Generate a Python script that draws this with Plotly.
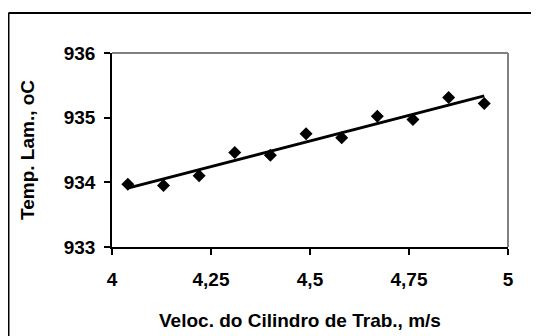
import numpy as np
import plotly.graph_objects as go

# Data
veloc = [4.04, 4.13, 4.22, 4.31, 4.40, 4.49, 4.58, 4.67, 4.76, 4.85, 4.94]
temp = [933.97, 933.95, 934.10, 934.46, 934.42, 934.75, 934.69, 935.02, 934.97, 935.31, 935.22]

x_tickvals = [4, 4.25, 4.5, 4.75, 5]
x_ticktext = ["4", "4,25", "4,5", "4,75", "5"]
y_tickvals = [933, 934, 935, 936]
y_ticktext = ["933", "934", "935", "936"]

x_title = "Veloc. do Cilindro de Trab., m/s"
y_title = "Temp. Lam., oC"

# Linear trend line
slope, intercept = np.polyfit(veloc, temp, 1)
trend_x = [min(veloc), max(veloc)]
trend_y = [slope * v + intercept for v in trend_x]

FONT = "Liberation Sans, Arial, sans-serif"
FS = 19

fig = go.Figure()
fig.add_trace(go.Scatter(x=veloc, y=temp, mode="markers",
                         marker=dict(symbol="diamond", size=10, color="black"),
                         showlegend=False, cliponaxis=False))
fig.add_trace(go.Scatter(x=trend_x, y=trend_y, mode="lines",
                         line=dict(color="black", width=3),
                         showlegend=False, cliponaxis=False))

# page offset (body margin) of 8px is compensated in these figure coords
W, H = 531, 328
L, T = 104, 45
pw, ph = 396, 194
R = W - L - pw
B = H - T - ph

def px_x(p):
    return (p - L) / pw

def px_y(p):
    return (T + ph - p) / ph

fig.update_layout(
    width=W, height=H,
    margin=dict(l=L, r=R, t=T, b=B),
    paper_bgcolor="white", plot_bgcolor="white",
    font=dict(family=FONT, size=FS, color="black", weight="bold"),
    xaxis=dict(range=[4, 5], tickvals=x_tickvals, ticktext=x_ticktext,
               ticks="outside", ticklen=6, tickwidth=1.5, tickcolor="black",
               showline=True, linecolor="black", linewidth=1.5,
               showgrid=False, zeroline=False, ticklabelstandoff=8,
               tickfont=dict(family=FONT, size=FS, color="black", weight="bold")),
    yaxis=dict(range=[933, 936], tickvals=y_tickvals, ticktext=y_ticktext,
               ticks="outside", ticklen=6, tickwidth=1.5, tickcolor="black",
               showline=True, linecolor="black", linewidth=1.5,
               showgrid=False, zeroline=False, ticklabelstandoff=5,
               tickfont=dict(family=FONT, size=FS, color="black", weight="bold")),
    shapes=[
        # outer chart frame: only top and left edges are visible (cropped)
        dict(type="line", xref="paper", yref="paper",
             x0=px_x(0.5), x1=px_x(W + 20), y0=px_y(5), y1=px_y(5),
             line=dict(color="black", width=2), layer="below"),
        dict(type="line", xref="paper", yref="paper",
             x0=px_x(0.5), x1=px_x(0.5), y0=px_y(5), y1=px_y(H + 20),
             line=dict(color="black", width=2), layer="below"),
        # plot area border (gray, top & right)
        dict(type="line", xref="paper", yref="paper", x0=0, x1=1, y0=1, y1=1,
             line=dict(color="#808080", width=2), layer="below"),
        dict(type="line", xref="paper", yref="paper", x0=1, x1=1, y0=0, y1=1,
             line=dict(color="#808080", width=2), layer="below"),
    ],
    annotations=[
        dict(text=x_title, xref="paper", yref="paper", x=px_x(292), y=px_y(312),
             xanchor="center", yanchor="middle", showarrow=False,
             font=dict(family=FONT, size=FS, color="black", weight="bold")),
        dict(text=y_title, xref="paper", yref="paper", x=px_x(19), y=0.5,
             xanchor="center", yanchor="middle", showarrow=False, textangle=-90,
             font=dict(family=FONT, size=FS, color="black", weight="bold")),
    ],
)

fig.write_html("out.html")
